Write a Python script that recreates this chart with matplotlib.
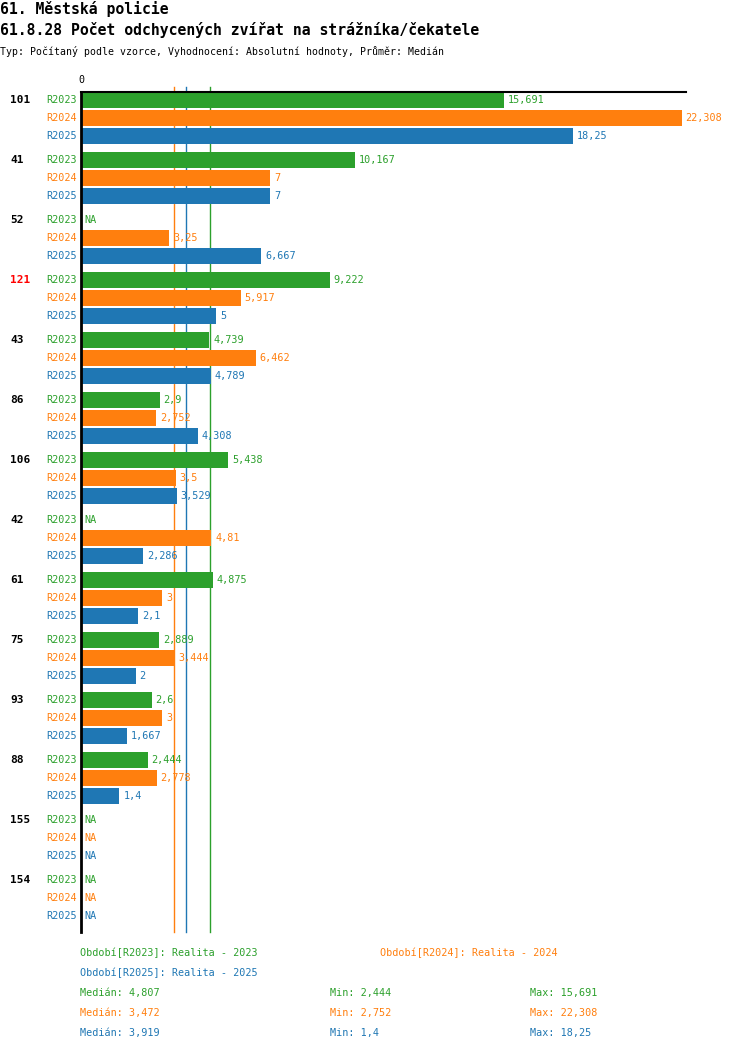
import matplotlib
matplotlib.use("Agg")
import matplotlib.pyplot as plt
import numpy as np

# data
groups = ['101', '41', '52', '121', '43', '86', '106', '42', '61', '75', '93', '88', '155', '154']
highlight = '121'
series = ['R2023', 'R2024', 'R2025']
period_names = ['Realita - 2023', 'Realita - 2024', 'Realita - 2025']
nan = np.nan
r2023 = [15.691, 10.167, nan, 9.222, 4.739, 2.9, 5.438, nan, 4.875, 2.889, 2.6, 2.444, nan, nan]
r2024 = [22.308, 7, 3.25, 5.917, 6.462, 2.752, 3.5, 4.81, 3, 3.444, 3, 2.778, nan, nan]
r2025 = [18.25, 7, 6.667, 5, 4.789, 4.308, 3.529, 2.286, 2.1, 2, 1.667, 1.4, nan, nan]
values = [r2023, r2024, r2025]
colors = ['#2ca02c', '#ff7f0e', '#1f77b4']

W, H = 750, 1052
MONO = 'DejaVu Sans Mono'


def fmt(v):
    s = f"{round(v + 1e-9, 3):.3f}".rstrip('0').rstrip('.')
    return s.replace('.', ',')


def px(x, y):
    return x / W, 1 - y / H


fig = plt.figure(figsize=(W / 100, H / 100), dpi=100)

# header (baselines in pixels)
fig.text(*px(0, 14), '61. Městská policie', family=MONO, fontweight='bold',
         fontsize=10.6, va='baseline', ha='left')
fig.text(*px(0, 35), '61.8.28 Počet odchycených zvířat na strážníka/čekatele',
         family=MONO, fontweight='bold', fontsize=10.6, va='baseline', ha='left')
fig.text(*px(0, 55), 'Typ: Počítaný podle vzorce, Vyhodnocení: Absolutní hodnoty, Průměr: Medián',
         family=MONO, fontsize=7.1, va='baseline', ha='left')

# axes area: x=0 at px 81, right edge px 686; top px 92, bottom px 932
left, right, top, bottom = 81, 686, 92, 932
ax = fig.add_axes([left / W, 1 - bottom / H, (right - left) / W, (bottom - top) / H])
xmax = 22.5
ax.set_xlim(0, xmax)
# one group = 60 px, one row = 18 px, bar = 16 px
g_step, r_step = 60.0, 18.0
ax.set_ylim((bottom - 100) / g_step, (top - 100) / g_step)
for sp in ax.spines.values():
    sp.set_visible(False)
ax.set_xticks([])
ax.set_yticks([])

medians = [np.nanmedian(v) for v in values]
mins = [np.nanmin(v) for v in values]
maxs = [np.nanmax(v) for v in values]

# median lines behind bars
for m, c in zip(medians, colors):
    ax.plot([m, m], [(87 - 100) / g_step, (bottom - 100) / g_step], color=c,
            lw=1, zorder=1, clip_on=False)

bar_h = 16 / g_step
for gi, g in enumerate(groups):
    for si, (s, vals, c) in enumerate(zip(series, values, colors)):
        y = gi + si * r_step / g_step
        v = vals[gi]
        ax.text(-4 / 26.9, y, s, color=c, family=MONO, fontsize=7.3,
                ha='right', va='center')
        if np.isnan(v):
            ax.annotate('NA', (0, y), xytext=(2.5, 0), textcoords='offset points',
                        color=c, family=MONO, fontsize=7.3, va='center', ha='left')
        else:
            ax.barh(y, v, height=bar_h, color=c, zorder=2, left=0.03)
            ax.annotate(fmt(v), (v + 0.03, y), xytext=(2.8, 0), textcoords='offset points',
                        color=c, family=MONO, fontsize=7.3, va='center', ha='left')
    ax.text(-71 / 26.9, gi, g, color='#ff0000' if g == highlight else 'black',
            family=MONO, fontweight='bold', fontsize=8, ha='left', va='center')

# axis lines
ax.plot([0, xmax], [(top - 100) / g_step] * 2, color='black', lw=1.5, zorder=3, clip_on=False)
ax.plot([0, 0], [(top - 100) / g_step, (bottom - 100) / g_step], color='black', lw=2,
        zorder=3, clip_on=False)
ax.text(0, (80 - 100) / g_step, '0', family=MONO, fontsize=7.2, ha='center', va='center')

# legend
leg_pos = [(80, 953), (380, 953), (80, 973)]
for (x, y), s, name, c in zip(leg_pos, series, period_names, colors):
    fig.text(*px(x, y), f'Období[{s}]: {name}', color=c, family=MONO, fontsize=7.3,
             va='center', ha='left')

for i, c in enumerate(colors):
    y = 993 + 20 * i
    fig.text(*px(80, y), f'Medián: {fmt(medians[i])}', color=c, family=MONO,
             fontsize=7.3, va='center', ha='left')
    fig.text(*px(330, y), f'Min: {fmt(mins[i])}', color=c, family=MONO,
             fontsize=7.3, va='center', ha='left')
    fig.text(*px(530, y), f'Max: {fmt(maxs[i])}', color=c, family=MONO,
             fontsize=7.3, va='center', ha='left')

fig.savefig('out.png', dpi=100)
